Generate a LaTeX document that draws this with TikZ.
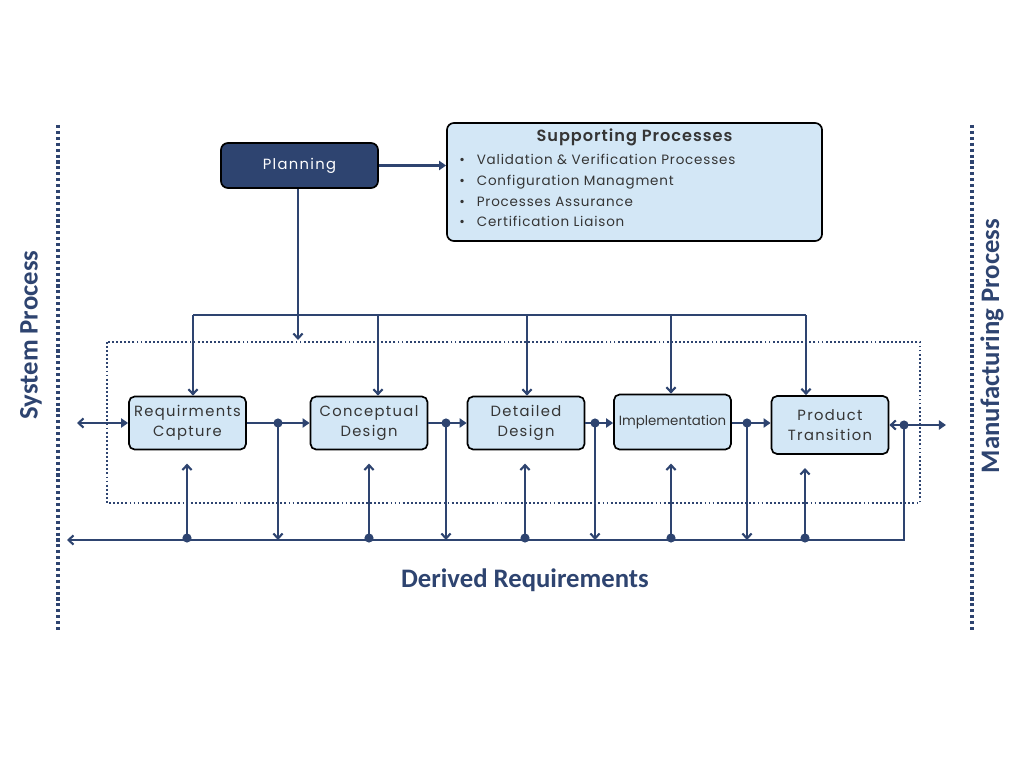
\documentclass[tikz,border=0pt]{standalone}
\usepackage{fontspec}
\setmainfont{Poppins}
\newfontfamily\boxfont[LetterSpace=9]{Poppins}
\newfontfamily\listfont[LetterSpace=6]{Poppins}
\newfontfamily\titlefont[LetterSpace=6]{Poppins SemiBold}
\newfontfamily\sidefont{Carlito}
\usetikzlibrary{arrows.meta}
\definecolor{navy}{HTML}{2E4470}
\definecolor{paleblue}{HTML}{D3E7F6}
\definecolor{inkgray}{HTML}{353535}

\tikzset{
  stage/.style={draw=black, line width=1.2pt, fill=paleblue, rounded corners=4pt,
    minimum width=2.925cm, minimum height=1.325cm, align=center, text=inkgray,
    font=\boxfont\fontsize{10.5}{14}\selectfont, inner sep=0pt},
  link/.style={draw=navy, line width=1.5pt},
  barb/.style={link, -{Straight Barb[length=3.5pt,width=6.5pt]}},
  tri/.style={link, -{Triangle[length=5pt,width=6.5pt]}},
  junct/.style={fill=navy, circle, inner sep=0pt, minimum size=6.5pt},
  side/.style={text=navy, font=\sidefont\bfseries\fontsize{19}{22}\selectfont},
}

\begin{document}
\begin{tikzpicture}[x=0.025cm,y=-0.025cm]
\useasboundingbox (0,0) rectangle (1024,768);

%%% side markers
\draw[navy, line width=2.6pt, dash pattern=on 2.2pt off 2pt] (58,125) -- (58,632);
\draw[navy, line width=2.6pt, dash pattern=on 2.2pt off 2pt] (972,125) -- (972,632);
\node[side, rotate=90] (sysproc) at (31,335) {System Process};
\node[side, rotate=90] (mfgproc) at (992,346) {Manufacturing Process};
\node[side] (derived) at (525,580) {Derived Requirements};

%%% planning and support
\node[draw=black, line width=1.2pt, fill=navy, rounded corners=5pt, minimum width=3.925cm,
  minimum height=1.125cm, text=white, font=\boxfont\fontsize{10.5}{14}\selectfont] (plan) at (299.5,165.5) {Planning};
\node[draw=black, line width=1.2pt, fill=paleblue, rounded corners=5pt, minimum width=9.375cm,
  minimum height=2.95cm] (support) at (634.5,182) {};
\node[text=inkgray, font=\titlefont\fontsize{11.5}{14}\selectfont] (suptitle) at (634.5,137) {Supporting Processes};
\node[anchor=north west, text=inkgray, align=left, inner sep=0pt,
  font=\listfont\fontsize{9.6}{14.9}\selectfont] (suplist) at (459,153.5)
  {\textbullet\hspace{8.5pt}Validation \& Verification Processes\\
   \textbullet\hspace{8.5pt}Configuration Managment\\
   \textbullet\hspace{8.5pt}Processes Assurance\\
   \textbullet\hspace{8.5pt}Certification Liaison};
\draw[tri] (plan.east) -- (support.west |- plan.east);

%%% dotted frame
\draw[navy, line width=1.3pt, dash pattern=on 1.3pt off 1.6pt] (107,342) rectangle (920,503);

%%% stages
\node[stage] (req) at (187.5,423) {Requirments\\Capture};
\node[stage] (conc) at (369,423) {Conceptual\\Design};
\node[stage] (det) at (526,423) {Detailed\\Design};
\node[stage, minimum height=1.375cm, font=\fontsize{9.5}{12}\selectfont] (impl) at (672.5,422) {Implementation};
\node[stage, minimum height=1.45cm] (prod) at (830,425) {Product\\Transition};

%%% distribution from planning
\coordinate (t1) at (193,315);
\coordinate (t2) at (378,315);
\coordinate (t3) at (527,315);
\coordinate (t4) at (671,315);
\coordinate (t5) at (806,315);
\coordinate (pdown) at (298,340);
\draw[link] (t1) -- (t5);
\draw[barb] (plan.south -| pdown) -- (pdown);
\draw[barb] (t1) -- (t1 |- req.north);
\draw[barb] (t2) -- (t2 |- conc.north);
\draw[barb] (t3) -- (t3 |- det.north);
\draw[barb] (t4) -- (t4 |- impl.north);
\draw[barb] (t5) -- (t5 |- prod.north);

%%% flow between stages
\coordinate (inL) at (77,423);
\coordinate (outR) at (946,425);
\coordinate (bl) at (67,540);
\node[junct] (j1) at (278,423) {};
\node[junct] (j2) at (446,423) {};
\node[junct] (j3) at (595,423) {};
\node[junct] (j4) at (747,423) {};
\node[junct] (j5) at (904,425) {};
\draw[link, {Straight Barb[length=3.5pt,width=6.5pt]}-{Triangle[length=5pt,width=6.5pt]}] (inL) -- (req.west);
\draw[tri] (req.east) -- (conc.west);
\draw[tri] (conc.east) -- (det.west);
\draw[tri] (det.east) -- (impl.west |- det.east);
\draw[tri] (impl.east |- j4) -- (prod.west |- j4);
\draw[link, {Straight Barb[length=3.5pt,width=6.5pt]}-{Triangle[length=5pt,width=6.5pt]}] (prod.east) -- (outR);
\draw[barb] (j5.center) -- (j5 |- bl) -- (bl);
\foreach \j in {j1,j2,j3,j4}
  \draw[barb] (\j.center) -- (\j |- bl);

%%% feedback up to stages
\foreach \s/\x in {req/187,conc/369,det/525,impl/671,prod/805} {
  \node[junct] (b\s) at (\x,538) {};
  \draw[barb, shorten >=0.33cm] (b\s.center) -- (b\s |- \s.south);
}

\end{tikzpicture}
\end{document}
